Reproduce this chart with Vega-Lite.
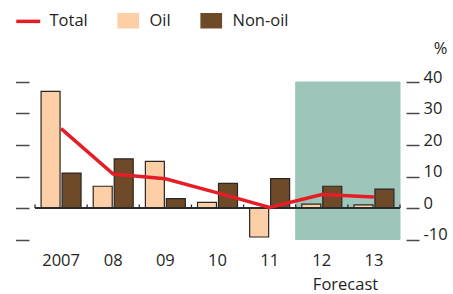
{
  "$schema": "https://vega.github.io/schema/vega-lite/v6.json",
  "width": 365,
  "height": 157.5,
  "autosize": {"type": "none"},
  "padding": {"left": 35, "top": 82, "right": 53, "bottom": 54.5},
  "background": "white",
  "config": {
    "view": {"stroke": null},
    "font": "Open Sans",
    "axis": {"labelFont": "Open Sans", "labelFontSize": 16.5, "labelColor": "#231f20", "grid": false, "titleFont": "Open Sans"},
    "legend": {
      "orient": "none", "legendX": -15, "legendY": -70, "direction": "horizontal", "title": null,
      "symbolSize": 576, "labelFontSize": 16.5, "labelFont": "Open Sans", "labelColor": "#231f20",
      "labelOffset": 13, "columnPadding": 27
    }
  },
  "datasets": {
    "bars": [
      {"year": "2007", "series": "Oil", "value": 37.0},
      {"year": "2007", "series": "Non-oil", "value": 11.1},
      {"year": "08", "series": "Oil", "value": 6.9},
      {"year": "08", "series": "Non-oil", "value": 15.6},
      {"year": "09", "series": "Oil", "value": 14.8},
      {"year": "09", "series": "Non-oil", "value": 3.0},
      {"year": "10", "series": "Oil", "value": 1.8},
      {"year": "10", "series": "Non-oil", "value": 7.8},
      {"year": "11", "series": "Oil", "value": -9.2},
      {"year": "11", "series": "Non-oil", "value": 9.3},
      {"year": "12", "series": "Oil", "value": 1.2},
      {"year": "12", "series": "Non-oil", "value": 6.9},
      {"year": "13", "series": "Oil", "value": 1.0},
      {"year": "13", "series": "Non-oil", "value": 6.0}
    ],
    "total": [
      {"year": "2007", "series": "Total", "total": 25.2},
      {"year": "08", "series": "Total", "total": 10.8},
      {"year": "09", "series": "Total", "total": 9.3},
      {"year": "10", "series": "Total", "total": 4.8},
      {"year": "11", "series": "Total", "total": 0.2},
      {"year": "12", "series": "Total", "total": 4.3},
      {"year": "13", "series": "Total", "total": 3.5}
    ],
    "shade": [
      {"year": "12"},
      {"year": "13"}
    ]
  },
  "layer": [
    {
      "data": {"name": "shade"},
      "mark": {"type": "rect", "fill": "#9dc5b9", "stroke": "#9dc5b9", "strokeWidth": 1},
      "encoding": {
        "x": {
          "field": "year", "type": "nominal",
          "scale": {"domain": ["2007", "08", "09", "10", "11", "12", "13"], "paddingInner": 0, "paddingOuter": 0},
          "axis": {
            "title": "Forecast", "titleX": 310, "titleY": 50, "titleAlign": "center", "titleBaseline": "alphabetic",
            "titleFontSize": 16.5, "titleFontWeight": "normal", "titleColor": "#231f20",
            "labelAngle": 0, "domain": false, "ticks": false, "tickSize": 0,
            "labelPadding": 26, "labelBaseline": "alphabetic", "labelFontSize": 16.5
          }
        },
        "y": {"datum": 40, "type": "quantitative", "scale": {"domain": [-10, 40], "nice": false, "zero": false}, "axis": null},
        "y2": {"datum": -10}
      }
    },
    {
      "data": {"name": "bars"},
      "mark": {"type": "bar", "stroke": "#2b2523", "strokeWidth": 1.2},
      "encoding": {
        "x": {"field": "year", "type": "nominal"},
        "xOffset": {"field": "series", "type": "nominal", "scale": {"domain": ["Oil", "Non-oil"], "paddingInner": 0.095, "paddingOuter": 0.29}},
        "y": {
          "field": "value", "type": "quantitative",
          "scale": {"domain": [-10, 40], "nice": false, "zero": false},
          "axis": {"orient": "left", "labels": false, "domain": false, "values": [-10, 0, 10, 20, 30, 40], "tickSize": 13.5, "offset": 6, "tickColor": "#4a4a4a", "tickWidth": 1.5, "title": null}
        },
        "color": {
          "field": "series", "type": "nominal",
          "scale": {"domain": ["Total", "Oil", "Non-oil"], "range": ["#e41e26", "#fdcfa6", "#6f4a29"]},
          "legend": {
            "encode": {
              "symbols": {
                "update": {
                  "shape": {"signal": "datum.value === 'Total' ? 'stroke' : 'M-0.85,-0.6H0.85V0.6H-0.85Z'"},
                  "fill": {"signal": "datum.value === 'Total' ? 'transparent' : (datum.value === 'Oil' ? '#fdcfa6' : '#6f4a29')"},
                  "stroke": {"signal": "datum.value === 'Total' ? '#e41e26' : '#2b2523'"},
                  "strokeWidth": {"signal": "datum.value === 'Total' ? 3.5 : 1.3"},
                  "opacity": {"value": 1}
                }
              }
            }
          }
        }
      }
    },
    {
      "data": {"values": [{}]},
      "mark": {"type": "rule", "color": "#2b2b2b", "strokeWidth": 2},
      "encoding": {"y": {"datum": 0, "type": "quantitative", "axis": null}}
    },
    {
      "data": {"name": "total"},
      "mark": {"type": "rule", "color": "#2b2b2b", "strokeWidth": 1.3},
      "encoding": {
        "x": {"field": "year", "type": "nominal", "bandPosition": 0},
        "y": {"datum": 0, "type": "quantitative", "axis": null},
        "y2": {"datum": 1.1}
      }
    },
    {
      "data": {"values": [{"year": "13"}]},
      "mark": {"type": "rule", "color": "#2b2b2b", "strokeWidth": 1.3},
      "encoding": {
        "x": {"field": "year", "type": "nominal", "bandPosition": 1},
        "y": {"datum": 0, "type": "quantitative", "axis": null},
        "y2": {"datum": 1.1}
      }
    },
    {
      "data": {"name": "total"},
      "mark": {"type": "line", "strokeWidth": 3.5},
      "encoding": {
        "x": {"field": "year", "type": "nominal"},
        "y": {
          "field": "total", "type": "quantitative",
          "axis": {
            "orient": "right", "values": [-10, 0, 10, 20, 30, 40], "domain": false, "tickSize": 13, "offset": 6,
            "tickColor": "#4a4a4a", "tickWidth": 1.5, "labelPadding": 4, "labelBaseline": "alphabetic", "labelAlign": "left",
            "labelExpr": "'' + datum.value",
            "title": "%", "titleAngle": 0, "titleX": 34, "titleY": -29, "titleAlign": "center", "titleBaseline": "alphabetic",
            "titleFontSize": 16.5, "titleFontWeight": "normal", "titleColor": "#231f20"
          }
        },
        "color": {
          "field": "series", "type": "nominal",
          "legend": {
            "encode": {
              "symbols": {
                "update": {
                  "shape": {"signal": "datum.value === 'Total' ? 'stroke' : 'M-0.85,-0.6H0.85V0.6H-0.85Z'"},
                  "fill": {"signal": "datum.value === 'Total' ? 'transparent' : (datum.value === 'Oil' ? '#fdcfa6' : '#6f4a29')"},
                  "stroke": {"signal": "datum.value === 'Total' ? '#e41e26' : '#2b2523'"},
                  "strokeWidth": {"signal": "datum.value === 'Total' ? 3.5 : 1.3"},
                  "opacity": {"value": 1}
                }
              }
            }
          }
        }
      }
    }
  ],
  "resolve": {"axis": {"y": "independent"}}
}
